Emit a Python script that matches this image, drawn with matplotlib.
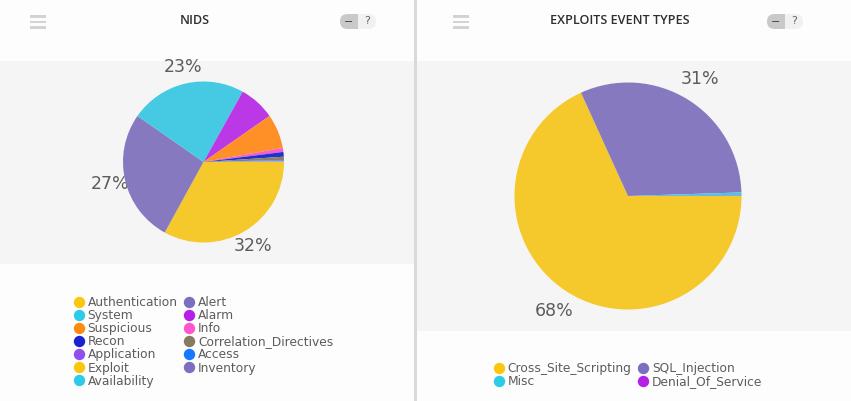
import matplotlib
matplotlib.use("Agg")
import matplotlib.pyplot as plt
from matplotlib.lines import Line2D
from matplotlib.patches import Rectangle, FancyBboxPatch

W, H = 851, 401

nids_labels = ["Authentication", "Alert", "System", "Alarm", "Suspicious", "Info", "Recon",
               "Correlation_Directives", "Application", "Access", "Exploit", "Inventory", "Availability"]
nids_values = [33.0, 26.7, 23.4, 7.2, 6.9, 0.8, 0.95, 0.65, 0.1, 0.1, 0.05, 0.1, 0.05]
nids_colors = ["#f5c82c", "#8779c0", "#46cae3", "#bb38e6", "#ff9028", "#f45fcf", "#2230cf",
               "#8a806a", "#8f55ee", "#1f80f5", "#f5c82c", "#8779c0", "#46cae3"]
nids_legend_colors = ["#fcc60f", "#7d6fc0", "#2dcbe8", "#b61fe6", "#ff8a10", "#fb56cb", "#1a22cf",
                      "#857a62", "#914ff0", "#1479ff", "#fcc60f", "#7d6fc0", "#2dcbe8"]
nids_pct = [("32%", 253, 246), ("27%", 110, 184), ("23%", 183, 67)]

exp_labels = ["Cross_Site_Scripting", "SQL_Injection", "Misc", "Denial_Of_Service"]
exp_values = [68.2, 31.3, 0.45, 0.05]
exp_colors = ["#f5c82c", "#8779c0", "#46cae3", "#bb38e6"]
exp_legend_colors = ["#fcc60f", "#7d6fc0", "#2dcbe8", "#b61fe6"]
exp_pct = [("68%", 554, 311), ("31%", 700, 79)]

titles = ["NIDS", "EXPLOITS EVENT TYPES"]
FONT = "DejaVu Sans"
TXT = "#5c5c5c"

fig = plt.figure(figsize=(W / 100, H / 100), dpi=100, facecolor="#fdfdfd")
bg = fig.add_axes([0, 0, 1, 1])
bg.set_xlim(0, W)
bg.set_ylim(H, 0)
bg.axis("off")

bg.add_patch(Rectangle((0, 61), 414, 203, fc="#f5f5f5", ec="none"))
bg.add_patch(Rectangle((417, 61), 434, 270, fc="#f5f5f5", ec="none"))
bg.add_patch(Rectangle((414, 0), 3, H, fc="#d9d9d9", ec="none"))


def header(title, menu_x, title_x, toggle_x):
    for y in (16.5, 22, 27.5):
        bg.add_patch(Rectangle((menu_x, y - 1.2), 16, 2.4, fc="#d3d3d3", ec="none"))
    bg.text(title_x, 21, title, ha="center", va="center", fontsize=9.05, color="#2e2e2e",
            family="Open Sans", fontweight="semibold")
    bg.add_patch(FancyBboxPatch((toggle_x + 14, 14), 22, 15, boxstyle="round,pad=0,rounding_size=7.5",
                                fc="#f1f1f1", ec="none"))
    bg.add_patch(FancyBboxPatch((toggle_x, 14), 16, 15, boxstyle="round,pad=0,rounding_size=7.5",
                                fc="#c9c9c9", ec="none"))
    bg.add_patch(Rectangle((toggle_x + 8, 14), 10, 15, fc="#c9c9c9", ec="none"))
    bg.text(toggle_x + 9, 21.5, "−", ha="center", va="center", fontsize=8, color="#444444", family=FONT)
    bg.text(toggle_x + 27, 21, "?", ha="center", va="center", fontsize=8, color="#666666", family=FONT)


header(titles[0], 30, 195, 340)
header(titles[1], 453, 620, 767)


def pie(cx, cy, r, values, colors):
    ax = fig.add_axes([(cx - r) / W, 1 - (cy + r) / H, 2 * r / W, 2 * r / H])
    ax.pie(values, colors=colors, startangle=0, counterclock=False, radius=1,
           wedgeprops={"linewidth": 0})
    ax.set_xlim(-1, 1)
    ax.set_ylim(-1, 1)
    ax.set_aspect("equal")
    ax.axis("off")


pie(203.5, 162, 80.5, nids_values, nids_colors)
pie(628, 196, 113.5, exp_values, exp_colors)

for txt, x, y in nids_pct + exp_pct:
    bg.text(x, y, txt, ha="center", va="center", fontsize=12.5, color=TXT, family=FONT, zorder=10)


def legend(labels, colors, x, y):
    # The reference fills its legend row by row; matplotlib fills by column.
    n = len(labels)
    order = list(range(0, n, 2)) + list(range(1, n, 2))
    handles = [Line2D([], [], ls="none", marker="o", ms=8.2, mfc=colors[i], mec="none") for i in order]
    leg = fig.legend(handles, [labels[i] for i in order], ncol=2, loc="upper left",
                     bbox_to_anchor=(x / W, 1 - y / H), frameon=False,
                     prop={"family": FONT, "size": 8.85}, labelcolor=TXT,
                     labelspacing=0.01, handlelength=0.9, handletextpad=0.3,
                     columnspacing=0.45, borderpad=0, borderaxespad=0)
    return leg


legend(nids_labels, nids_legend_colors, 73, 296)
legend(exp_labels, exp_legend_colors, 493, 362)

fig.savefig("out.png", dpi=100, facecolor=fig.get_facecolor())
